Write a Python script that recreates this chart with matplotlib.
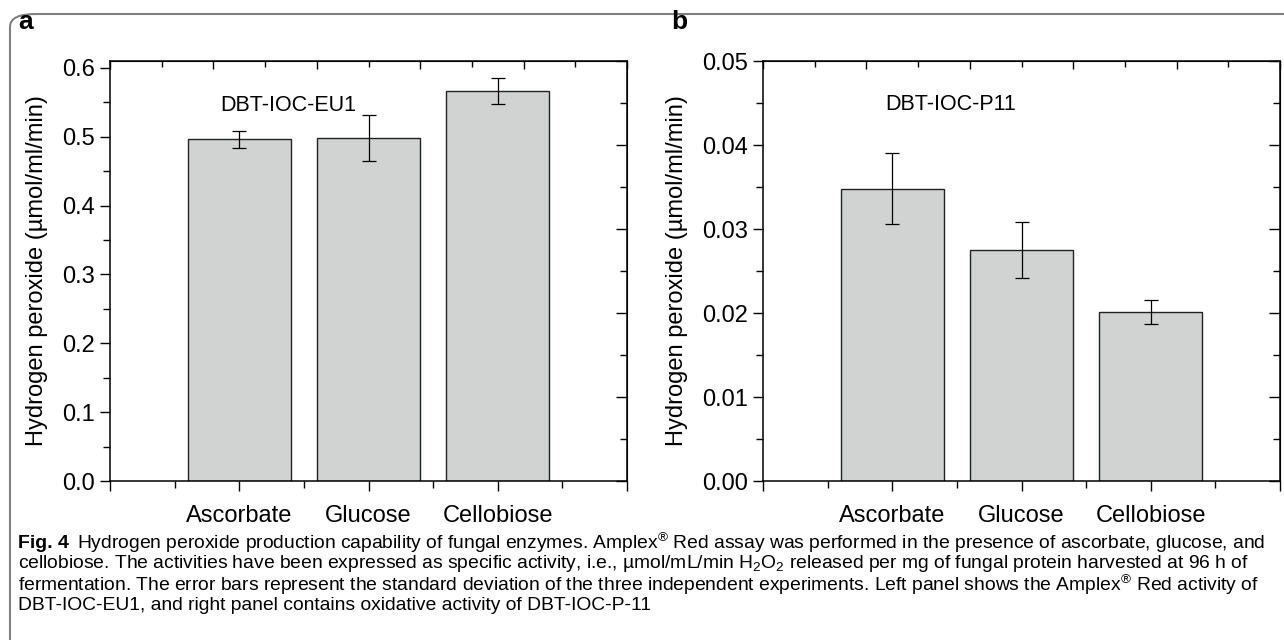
import numpy as np
import matplotlib
matplotlib.use("Agg")
import matplotlib.pyplot as plt
from matplotlib.patches import FancyBboxPatch
from matplotlib.ticker import MultipleLocator, FixedLocator, FixedFormatter

plt.rcParams['font.family'] = ['Liberation Sans', 'DejaVu Sans']
plt.rcParams['mathtext.fontset'] = 'custom'
plt.rcParams['mathtext.rm'] = 'Liberation Sans'
plt.rcParams['mathtext.it'] = 'Liberation Sans:italic'
plt.rcParams['mathtext.bf'] = 'Liberation Sans:bold'

# data
substrates = ["Ascorbate", "Glucose", "Cellobiose"]
eu1_mean = [0.496, 0.498, 0.566]
eu1_sd = [0.013, 0.033, 0.019]
p11_mean = [0.0348, 0.0275, 0.0201]
p11_sd = [0.0042, 0.0033, 0.0014]

panels = [
    ("a", "DBT-IOC-EU1", eu1_mean, eu1_sd, 0.61, 0.1, 0.05, "{:.1f}", 1.38, 0.546),
    ("b", "DBT-IOC-P11", p11_mean, p11_sd, 0.05, 0.01, 0.005, "{:.2f}", 1.45, 0.0448),
]

fig = plt.figure(figsize=(12.84, 6.4), dpi=100)
W, H = 1284, 640

# rounded frame around the figure (bottom and right edges fall off the page)
frame = FancyBboxPatch((10 / W, -0.2), 1.2, 0.2 + (640 - 14) / H,
                       boxstyle="round,pad=0,rounding_size=0.02",
                       transform=fig.transFigure, fill=False,
                       edgecolor="#808080", linewidth=1.5)
fig.patches.append(frame)

lefts = [110, 763]
for (tag, name, mean, sd, ytop, ymaj, ymin, fmt, tx, ty), left in zip(panels, lefts):
    ax = fig.add_axes([left / W, 1 - 481 / H, 517 / W, 420 / H])
    x = np.arange(1, len(substrates) + 1)
    ax.bar(x, mean, width=0.8, color="#d1d3d3", edgecolor="#222222", linewidth=1.0)
    ax.errorbar(x, mean, yerr=sd, fmt="none", ecolor="black",
                elinewidth=0.9, capsize=5, capthick=0.9)
    ax.set_xlim(0, 4)
    ax.set_ylim(0, ytop)

    ax.xaxis.set_major_locator(FixedLocator([0, 1, 2, 3, 4]))
    ax.xaxis.set_major_formatter(FixedFormatter([""] + substrates + [""]))
    ax.xaxis.set_minor_locator(MultipleLocator(0.5))
    ax.yaxis.set_major_locator(MultipleLocator(ymaj))
    ax.yaxis.set_minor_locator(MultipleLocator(ymin))
    ax.yaxis.set_major_formatter(plt.FuncFormatter(lambda v, p, f=fmt: f.format(v)))
    ax.tick_params(axis="both", which="major", direction="out", length=7,
                   width=1, labelsize=17, pad=4)
    ax.tick_params(axis="both", which="minor", direction="out", length=5, width=1)
    ax.tick_params(axis="x", which="major", pad=10)
    for s in ax.spines.values():
        s.set_linewidth(1.1)

    top = ax.secondary_xaxis("top")
    top.xaxis.set_major_locator(MultipleLocator(0.8))
    top.xaxis.set_minor_locator(MultipleLocator(0.4))
    top.tick_params(which="major", direction="in", length=6, width=1, labeltop=False)
    top.tick_params(which="minor", direction="in", length=4, width=1)
    right = ax.secondary_yaxis("right")
    right.yaxis.set_major_locator(MultipleLocator(ytop / 5))
    right.yaxis.set_minor_locator(MultipleLocator(ytop / 10))
    right.tick_params(which="major", direction="in", length=8, width=1, labelright=False)
    right.tick_params(which="minor", direction="in", length=5, width=1)

    ax.set_ylabel("Hydrogen peroxide (µmol/ml/min)", fontsize=17, labelpad=10)
    ax.text(tx, ty, name, fontsize=15.5, ha="center", va="center")
    fig.text((left - 92) / W, 1 - 22 / H, tag, fontsize=19, fontweight="bold",
             ha="left", va="center")

# caption
lines = [
    "Hydrogen peroxide production capability of fungal enzymes. Amplex$^{®}$ Red assay was performed in the presence of ascorbate, glucose, and",
    "cellobiose. The activities have been expressed as specific activity, i.e., µmol/mL/min H$_2$O$_2$ released per mg of fungal protein harvested at 96 h of",
    "fermentation. The error bars represent the standard deviation of the three independent experiments. Left panel shows the Amplex$^{®}$ Red activity of",
    "DBT-IOC-EU1, and right panel contains oxidative activity of DBT-IOC-P-11",
]
ys = [543, 564, 585, 606]
fs = 13.5
fig_lbl = fig.text(18 / W, 1 - ys[0] / H, "Fig. 4", fontsize=fs + 0.5,
                   fontweight="bold", va="center", ha="left")
caps = []
for i, (ln, yy) in enumerate(zip(lines, ys)):
    xx = 76 if i == 0 else 18
    caps.append(fig.text(xx / W, 1 - yy / H, ln, fontsize=fs,
                         va="center", ha="left"))

# fit the first caption line between the label and the reference right margin
fig.canvas.draw()
r = fig.canvas.get_renderer()
lbl_end = fig_lbl.get_window_extent(r).x1 + 8
caps[0].set_x(lbl_end / W)
w0 = caps[0].get_window_extent(r).width
scale = (1266 - lbl_end) / w0
for t in caps:
    t.set_fontsize(fs * scale)

fig.savefig("out.png", dpi=100)
